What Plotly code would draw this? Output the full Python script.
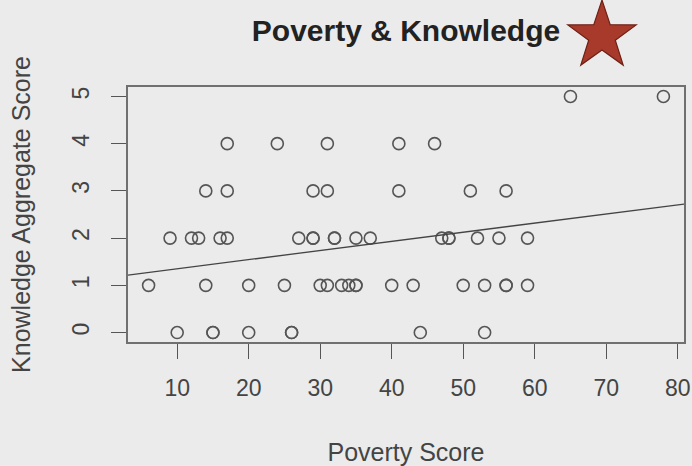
import math
import numpy as np
import plotly.graph_objects as go

# knowledge aggregate score (y) -> poverty scores of respondents at that level
poverty_k0 = [10, 15, 15, 20, 26, 26, 44, 53]
poverty_k1 = [6, 14, 20, 25, 30, 31, 33, 34, 35, 35, 40, 43, 50, 53, 56, 56, 59]
poverty_k2 = [9, 12, 13, 16, 17, 27, 29, 29, 32, 32, 35, 37, 47, 48, 48, 52, 55, 59]
poverty_k3 = [14, 17, 29, 31, 41, 51, 56]
poverty_k4 = [17, 24, 31, 41, 46]
poverty_k5 = [65, 78]

groups = [poverty_k0, poverty_k1, poverty_k2, poverty_k3, poverty_k4, poverty_k5]
poverty = [p for g in groups for p in g]
knowledge = [k for k, g in enumerate(groups) for _ in g]

x_ticks = [10, 20, 30, 40, 50, 60, 70, 80]
y_ticks = [0, 1, 2, 3, 4, 5]

BG = '#ebebeb'
FONT = 'Liberation Sans, Arial, Helvetica, sans-serif'

# R style axis ranges (4% padding)
xpad = (max(poverty) - min(poverty)) * 0.04
ypad = (max(knowledge) - min(knowledge)) * 0.04
xr = [min(poverty) - xpad, max(poverty) + xpad]
yr = [min(knowledge) - ypad, max(knowledge) + ypad]

slope, intercept = np.polyfit(poverty, knowledge, 1)

fig = go.Figure()
fig.add_trace(go.Scatter(
    x=poverty, y=knowledge, mode='markers',
    marker=dict(symbol='circle-open', size=12, color='#555555', line=dict(width=1.6, color='#555555')),
    showlegend=False, hoverinfo='x+y'
))
fig.add_trace(go.Scatter(
    x=xr, y=[intercept + slope * v for v in xr], mode='lines',
    line=dict(color='#444444', width=1.3), showlegend=False
))

# red star next to the title
pts = []
for i in range(10):
    r = 36 if i % 2 == 0 else 14
    a = math.pi / 2 + i * math.pi / 5
    pts.append((r * math.cos(a), r * math.sin(a)))
star_path = 'M ' + ' L '.join(f'{px:.1f},{py:.1f}' for px, py in pts) + ' Z'
fig.add_shape(type='path', path=star_path, xref='paper', yref='paper',
              xsizemode='pixel', ysizemode='pixel', xanchor=0.8525, yanchor=1.2,
              fillcolor='#a83a2b', line=dict(color='#6e2015', width=1.2), layer='above')

axis_common = dict(
    showgrid=False, zeroline=False, showline=True, mirror=True, automargin=False,
    linecolor='#707070', linewidth=1.6, ticks='outside', ticklen=15,
    tickcolor='#555555', tickwidth=1.3,
    tickfont=dict(size=23, color='#444444', family=FONT),
)
fig.update_xaxes(range=xr, tickvals=x_ticks, ticklabelstandoff=10,
                 title=dict(text='Poverty Score', font=dict(size=25, color='#444444', family=FONT), standoff=44),
                 **axis_common)
fig.update_yaxes(range=yr, tickvals=y_ticks, tickangle=-90, ticklabelstandoff=13,
                 title=dict(text='Knowledge Aggregate Score', font=dict(size=25, color='#444444', family=FONT), standoff=30),
                 **axis_common)

fig.update_layout(
    width=692, height=466,
    paper_bgcolor=BG, plot_bgcolor=BG,
    margin=dict(l=128, r=8, t=87, b=124),
    title=dict(text='<b>Poverty & Knowledge</b>', x=0.5, xref='paper', xanchor='center',
               y=0.9335, yref='container', yanchor='middle',
               font=dict(size=30, color='#222222', family=FONT)),
    font=dict(family=FONT),
)

fig.write_html("out.html", config={'displayModeBar': False},
               post_script="document.body.style.margin='0';")
